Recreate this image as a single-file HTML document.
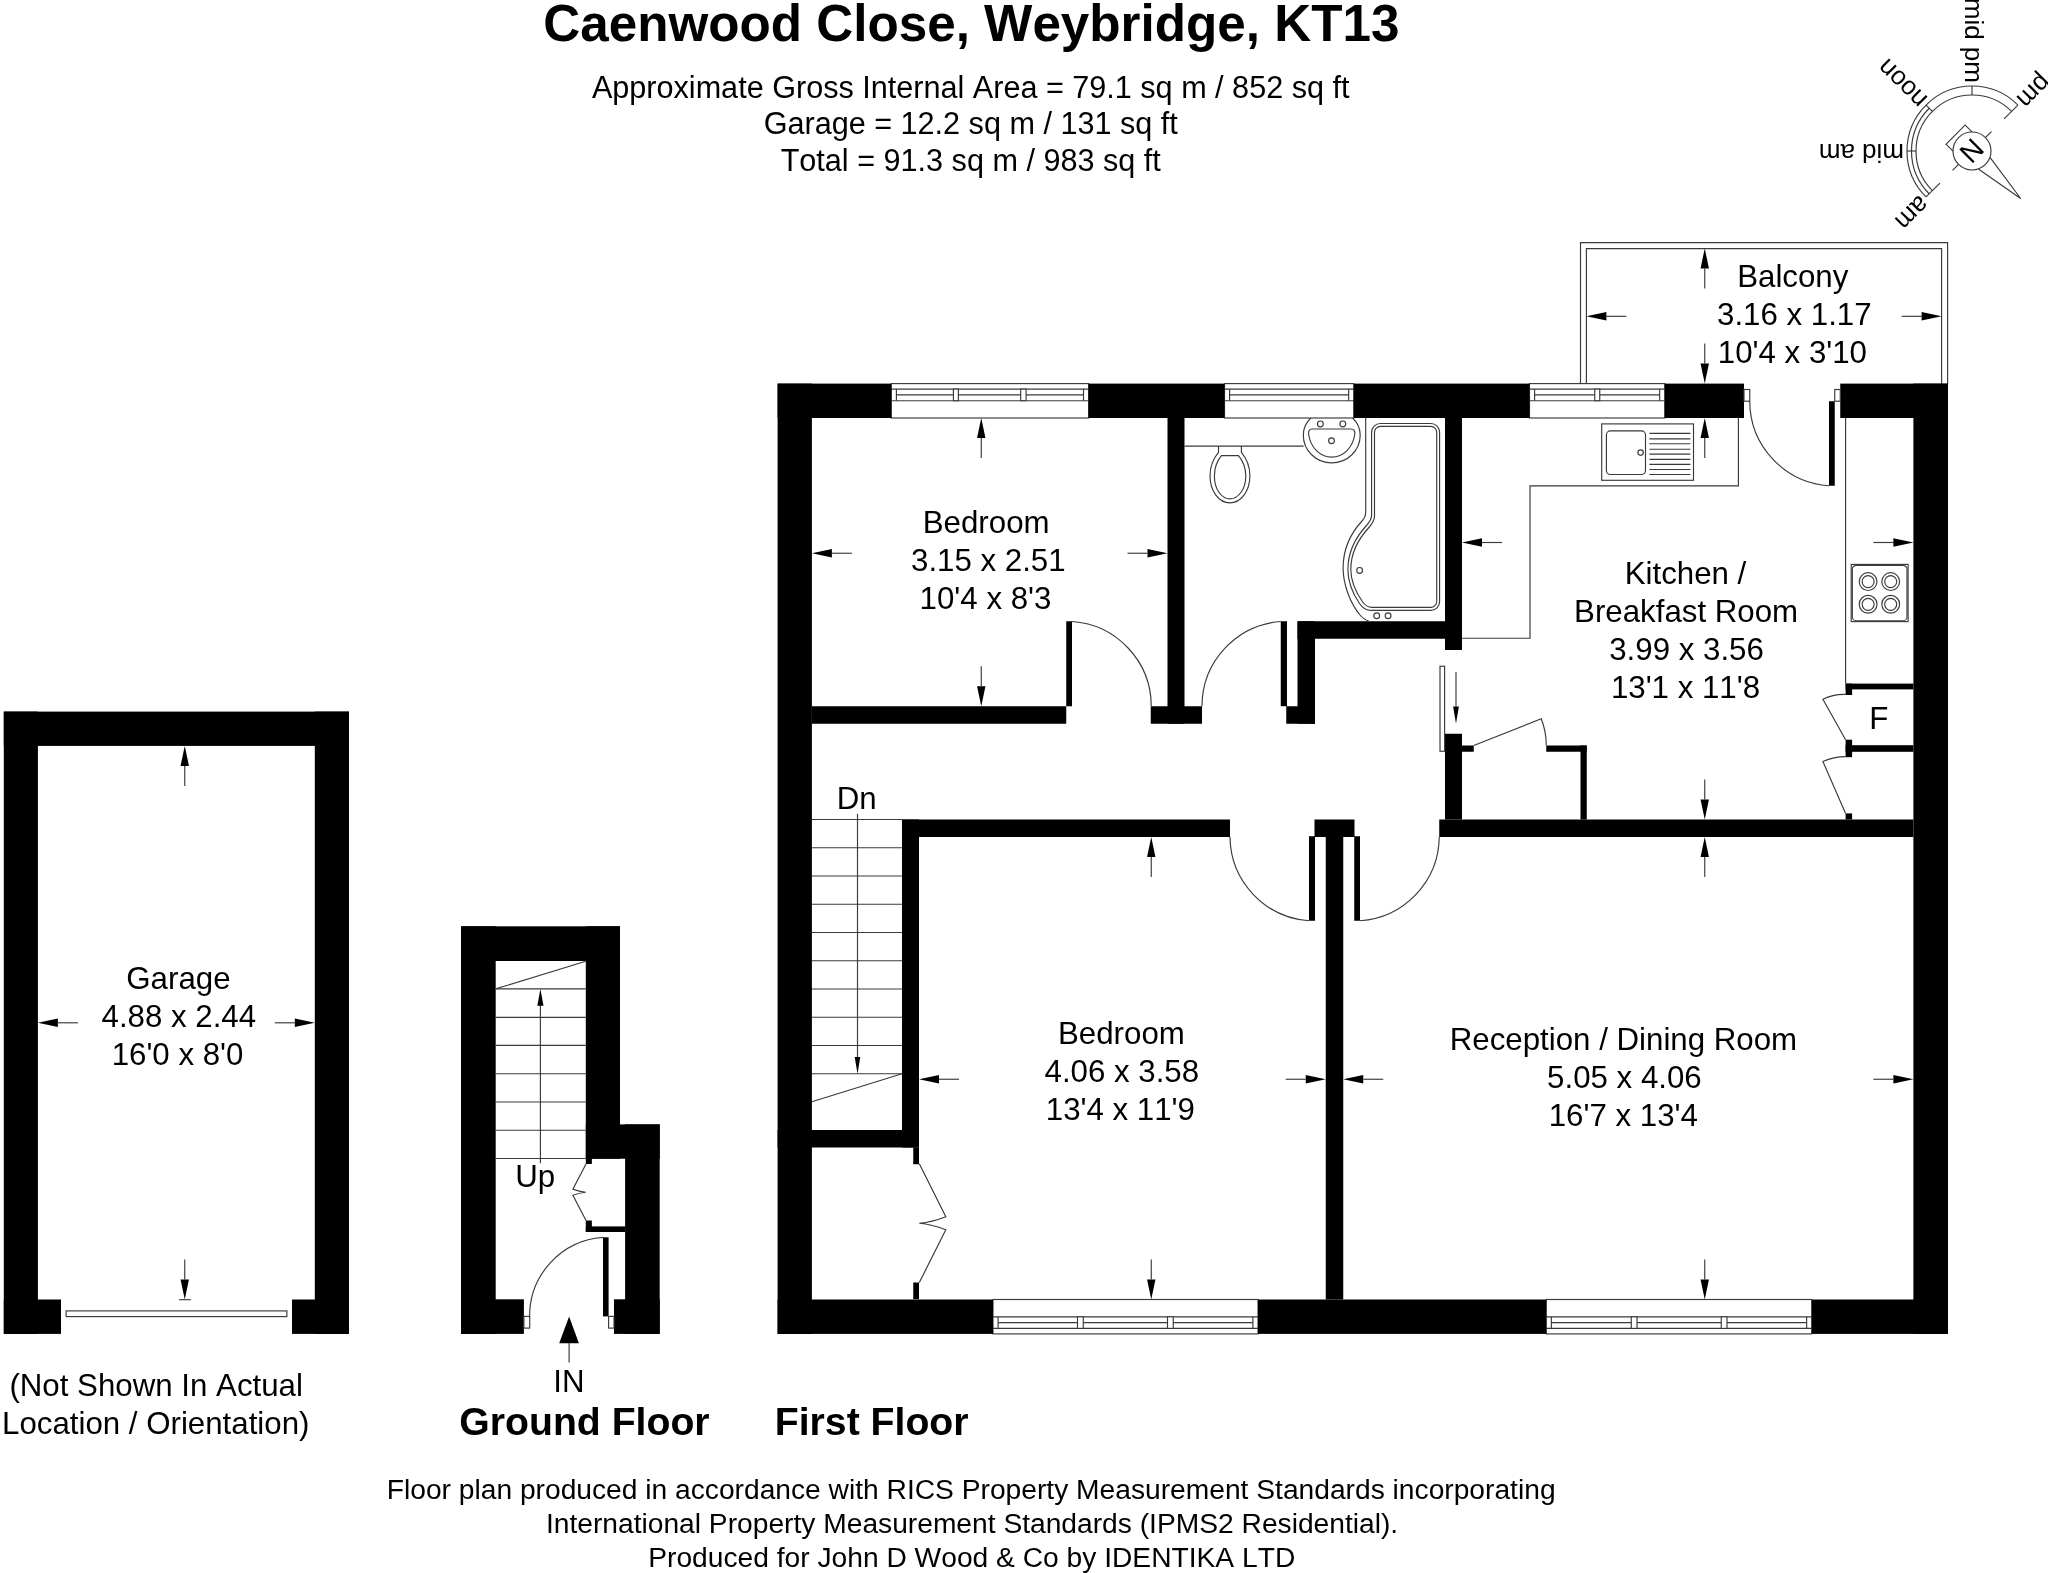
<!DOCTYPE html>
<html lang="en"><head><meta charset="utf-8"><title>Caenwood Close, Weybridge, KT13 - Floor plan</title>
<style>
html,body{margin:0;padding:0;background:#fff;}
body{width:2048px;height:1573px;overflow:hidden;font-family:"Liberation Sans",sans-serif;}
svg{display:block;position:absolute;left:0;top:0;will-change:transform;}
text{font-family:"Liberation Sans",sans-serif;fill:#000;font-kerning:none;font-feature-settings:"kern" 0,"liga" 0;white-space:pre;}
.w{fill:#000;}
.l{fill:none;stroke:#3a3a3a;stroke-width:1.15;}
.lf{fill:#fff;stroke:#3a3a3a;stroke-width:1.15;}
.a{fill:none;stroke:#3a3a3a;stroke-width:1.15;}
.h{fill:#000;stroke:none;}
.t{font-size:31.25px;}
.tt{font-size:51.2px;font-weight:bold;}
.st{font-size:30.6px;}
.fl{font-size:39.2px;font-weight:bold;}
.ft{font-size:28.2px;}
.c{font-size:26px;}
.cn{font-size:28px;}
</style></head><body>
<svg width="2048" height="1573" viewBox="0 0 2048 1573">
<rect x="0" y="0" width="2048" height="1573" fill="#fff"/>
<g id="headings">
<text class="tt" x="971.3" y="41.2" text-anchor="middle">Caenwood Close, Weybridge, KT13</text>
<text class="st" x="970.7" y="97.6" text-anchor="middle">Approximate Gross Internal Area = 79.1 sq m / 852 sq ft</text>
<text class="st" x="970.7" y="134.4" text-anchor="middle">Garage = 12.2 sq m / 131 sq ft</text>
<text class="st" x="970.7" y="171.2" text-anchor="middle">Total = 91.3 sq m / 983 sq ft</text>
</g>
<g id="compass" transform="translate(1972 151) rotate(135)">
<path class="l" d="M65 0A65 65 0 0 1 -65 0"/>
<path class="l" d="M56 0A56 56 0 0 1 -56 0"/>
<path class="l" d="M60.5 0A60.5 60.5 0 0 1 0 60.5"/>
<line class="l" x1="65" y1="0" x2="45.3" y2="0"/>
<line class="l" x1="-65" y1="0" x2="-45.3" y2="0"/>
<line class="l" x1="0" y1="56" x2="0" y2="65"/>
<line class="l" x1="39.6" y1="39.6" x2="45.96" y2="45.96"/>
<line class="l" x1="-39.6" y1="39.6" x2="-45.96" y2="45.96"/>
<rect class="l" x="-13.5" y="0" width="27" height="23.2"/>
<line class="l" x1="19" y1="0" x2="27.5" y2="0"/>
<line class="l" x1="-19" y1="0" x2="-27.5" y2="0"/>
<path class="l" d="M-8.1 -17.6L-0.8 -68L8.1 -17.6"/>
<circle class="lf" cx="0" cy="0" r="19"/>
<text class="cn" x="0" y="10" text-anchor="middle">N</text>
<text class="c" x="68" y="6.8" text-anchor="start">am</text>
<text class="c" x="-68" y="6.8" text-anchor="end">pm</text>
<g transform="rotate(90)">
<text class="c" x="68" y="6.8" text-anchor="start">noon</text>
</g>
<g transform="rotate(45)">
<text class="c" x="68" y="6.8" text-anchor="start">mid am</text>
</g>
<g transform="rotate(-45)">
<text class="c" x="-68" y="6.8" text-anchor="end">mid pm</text>
</g>
</g>
<g id="garage">
<rect class="w" x="3.8" y="711.6" width="345.2" height="34.3"/>
<rect class="w" x="3.8" y="711.6" width="34.1" height="622.3"/>
<rect class="w" x="314.8" y="711.6" width="34.2" height="622.3"/>
<rect class="w" x="3.8" y="1299.5" width="57.2" height="34.4"/>
<rect class="w" x="292" y="1299.5" width="57" height="34.4"/>
<rect class="lf" x="66.1" y="1310.9" width="220.8" height="5.7"/>
<line class="a" x1="184.75" y1="785.9" x2="184.75" y2="765.9"/>
<polygon class="h" points="184.75,745.9 188.95,765.9 180.55,765.9"/>
<line class="a" x1="184.75" y1="1259.5" x2="184.75" y2="1279.5"/>
<polygon class="h" points="184.75,1299.5 180.55,1279.5 188.95,1279.5"/>
<line class="a" x1="179" y1="1299.7" x2="190.8" y2="1299.7"/>
<line class="a" x1="77.9" y1="1022.8" x2="57.9" y2="1022.8"/>
<polygon class="h" points="37.9,1022.8 57.9,1018.6 57.9,1027"/>
<line class="a" x1="274.8" y1="1022.8" x2="294.8" y2="1022.8"/>
<polygon class="h" points="314.8,1022.8 294.8,1027 294.8,1018.6"/>
<text class="t" x="126.3" y="988.7" text-anchor="start">Garage</text>
<text class="t" x="101.5" y="1026.6" text-anchor="start">4.88 x 2.44</text>
<text class="t" x="111.65" y="1064.7" text-anchor="start">16'0 x 8'0</text>
<text class="t" x="9.4" y="1396.25" text-anchor="start">(Not Shown In Actual</text>
<text class="t" x="2" y="1433.9" text-anchor="start">Location / Orientation)</text>
</g>
<g id="ground">
<rect class="w" x="461" y="926.3" width="159" height="34.7"/>
<rect class="w" x="461" y="926.3" width="34.7" height="407.6"/>
<rect class="w" x="585.8" y="926.3" width="34.2" height="232.4"/>
<rect class="w" x="585.8" y="1124.4" width="73.9" height="34.3"/>
<rect class="w" x="625.1" y="1124.4" width="34.6" height="209.5"/>
<rect class="w" x="461" y="1299.3" width="62.9" height="34.6"/>
<rect class="w" x="614" y="1299.3" width="45.7" height="34.6"/>
<rect class="w" x="585.8" y="1158.4" width="6.05" height="5.6"/>
<rect class="w" x="585.8" y="1220.5" width="6.05" height="11.5"/>
<rect class="w" x="585.8" y="1226.4" width="39.3" height="5.6"/>
<path class="l" d="M586 1163.9L572.9 1189.3Q579 1191.6 585.7 1192.2Q579 1192.9 572.9 1195.3L586 1220.6"/>
<line class="l" x1="495.7" y1="988.9" x2="585.8" y2="988.9"/>
<line class="l" x1="495.7" y1="1017.3" x2="585.8" y2="1017.3"/>
<line class="l" x1="495.7" y1="1045.4" x2="585.8" y2="1045.4"/>
<line class="l" x1="495.7" y1="1073.7" x2="585.8" y2="1073.7"/>
<line class="l" x1="495.7" y1="1102" x2="585.8" y2="1102"/>
<line class="l" x1="495.7" y1="1130.2" x2="585.8" y2="1130.2"/>
<line class="l" x1="495.7" y1="1158.5" x2="585.8" y2="1158.5"/>
<line class="l" x1="585.8" y1="961.2" x2="495.7" y2="988.9"/>
<line class="a" x1="540.4" y1="1005" x2="540.4" y2="1163.3"/>
<polygon class="h" points="540.4,988.9 543.5,1005.8 537.3,1005.8"/>
<text class="t" x="515.3" y="1187" text-anchor="start">Up</text>
<rect class="w" x="603" y="1237.3" width="5.6" height="79.1"/>
<path class="l" d="M603 1237.4A79 79 0 0 0 529.6 1316.4"/>
<rect class="lf" x="523.9" y="1316.4" width="5.8" height="11.7"/>
<rect class="lf" x="608.6" y="1316.4" width="5.4" height="11.7"/>
<polygon class="h" points="569.1,1316.5 578.9,1343.3 559.2,1343.3"/>
<line class="a" x1="569.1" y1="1343" x2="569.1" y2="1362.5"/>
<text class="t" x="553.3" y="1391.7" text-anchor="start">IN</text>
<text class="fl" x="459.3" y="1434.6" text-anchor="start">Ground Floor</text>
</g>
<g id="first">
<rect class="lf" x="891.3" y="383.6" width="197.3" height="34.4"/>
<line class="l" x1="891.3" y1="389.1" x2="1088.6" y2="389.1"/>
<line class="l" x1="891.3" y1="400.7" x2="1088.6" y2="400.7"/>
<line class="l" x1="896.4" y1="389.1" x2="896.4" y2="400.7"/>
<line class="l" x1="1083.5" y1="389.1" x2="1083.5" y2="400.7"/>
<rect class="lf" x="953.4" y="389.1" width="5" height="11.6"/>
<rect class="lf" x="1020.7" y="389.1" width="5.4" height="11.6"/>
<line class="l" x1="896.4" y1="394.9" x2="953.4" y2="394.9"/>
<line class="l" x1="958.4" y1="394.9" x2="1020.7" y2="394.9"/>
<line class="l" x1="1026.1" y1="394.9" x2="1083.5" y2="394.9"/>
<rect class="lf" x="1224.5" y="383.6" width="129.25" height="34.4"/>
<line class="l" x1="1224.5" y1="389.1" x2="1353.75" y2="389.1"/>
<line class="l" x1="1224.5" y1="400.7" x2="1353.75" y2="400.7"/>
<line class="l" x1="1229.6" y1="389.1" x2="1229.6" y2="400.7"/>
<line class="l" x1="1348.65" y1="389.1" x2="1348.65" y2="400.7"/>
<line class="l" x1="1229.6" y1="394.9" x2="1348.65" y2="394.9"/>
<rect class="lf" x="1529.5" y="383.6" width="135.25" height="34.4"/>
<line class="l" x1="1529.5" y1="389.1" x2="1664.75" y2="389.1"/>
<line class="l" x1="1529.5" y1="400.7" x2="1664.75" y2="400.7"/>
<line class="l" x1="1534.6" y1="389.1" x2="1534.6" y2="400.7"/>
<line class="l" x1="1659.65" y1="389.1" x2="1659.65" y2="400.7"/>
<rect class="lf" x="1594.75" y="389.1" width="5" height="11.6"/>
<line class="l" x1="1534.6" y1="394.9" x2="1594.75" y2="394.9"/>
<line class="l" x1="1599.75" y1="394.9" x2="1659.65" y2="394.9"/>
<rect class="lf" x="993" y="1299.5" width="265" height="34.4"/>
<line class="l" x1="993" y1="1328.4" x2="1258" y2="1328.4"/>
<line class="l" x1="993" y1="1316.8" x2="1258" y2="1316.8"/>
<line class="l" x1="998.1" y1="1328.4" x2="998.1" y2="1316.8"/>
<line class="l" x1="1252.9" y1="1328.4" x2="1252.9" y2="1316.8"/>
<rect class="lf" x="1077.5" y="1316.8" width="5.75" height="11.6"/>
<rect class="lf" x="1167.5" y="1316.8" width="5.75" height="11.6"/>
<line class="l" x1="998.1" y1="1322.6" x2="1077.5" y2="1322.6"/>
<line class="l" x1="1083.25" y1="1322.6" x2="1167.5" y2="1322.6"/>
<line class="l" x1="1173.25" y1="1322.6" x2="1252.9" y2="1322.6"/>
<rect class="lf" x="1546.25" y="1299.5" width="265.5" height="34.4"/>
<line class="l" x1="1546.25" y1="1328.4" x2="1811.75" y2="1328.4"/>
<line class="l" x1="1546.25" y1="1316.8" x2="1811.75" y2="1316.8"/>
<line class="l" x1="1551.35" y1="1328.4" x2="1551.35" y2="1316.8"/>
<line class="l" x1="1806.65" y1="1328.4" x2="1806.65" y2="1316.8"/>
<rect class="lf" x="1631.25" y="1316.8" width="5.75" height="11.6"/>
<rect class="lf" x="1721.25" y="1316.8" width="5.75" height="11.6"/>
<line class="l" x1="1551.35" y1="1322.6" x2="1631.25" y2="1322.6"/>
<line class="l" x1="1637" y1="1322.6" x2="1721.25" y2="1322.6"/>
<line class="l" x1="1727" y1="1322.6" x2="1806.65" y2="1322.6"/>
<path class="l" d="M1580.5 384V242.6H1947.6V384"/>
<path class="l" d="M1586.4 384V248.6H1941.6V384"/>
<rect class="w" x="777.6" y="383.6" width="34.3" height="950.3"/>
<rect class="w" x="1913.4" y="383.6" width="34.6" height="950.3"/>
<rect class="w" x="777.6" y="383.6" width="113.7" height="34.4"/>
<rect class="w" x="1088.6" y="383.6" width="135.9" height="34.4"/>
<rect class="w" x="1353.75" y="383.6" width="175.75" height="34.4"/>
<rect class="w" x="1664.75" y="383.6" width="79.25" height="34.4"/>
<rect class="w" x="1840.25" y="383.6" width="107.75" height="34.4"/>
<rect class="w" x="777.6" y="1299.5" width="215.4" height="34.4"/>
<rect class="w" x="1258" y="1299.5" width="288.25" height="34.4"/>
<rect class="w" x="1811.75" y="1299.5" width="136.25" height="34.4"/>
<rect class="w" x="1167.5" y="418" width="17" height="305.75"/>
<rect class="w" x="811.9" y="706.25" width="254.35" height="17.5"/>
<rect class="w" x="1066.25" y="621.25" width="5.75" height="85"/>
<rect class="w" x="1150.75" y="706.25" width="51.25" height="17.5"/>
<rect class="w" x="1280.75" y="621.25" width="6.25" height="85"/>
<rect class="w" x="1286.25" y="706.25" width="28.75" height="17.5"/>
<rect class="w" x="1297.5" y="621.25" width="17.5" height="102.5"/>
<rect class="w" x="1297.5" y="621.25" width="164.5" height="17.5"/>
<rect class="w" x="1445" y="418" width="17" height="232"/>
<rect class="w" x="1445" y="733.75" width="17" height="85.75"/>
<rect class="w" x="1462" y="745.5" width="11.75" height="6.25"/>
<rect class="w" x="1546.25" y="745.5" width="40.5" height="6.25"/>
<rect class="w" x="1580.5" y="745.5" width="6.25" height="74"/>
<rect class="w" x="1439.25" y="819.5" width="474.15" height="17.5"/>
<rect class="w" x="1314.5" y="819.5" width="40" height="17.5"/>
<rect class="w" x="1325.75" y="837" width="17.5" height="462.5"/>
<rect class="w" x="1309" y="836.25" width="6" height="84.5"/>
<rect class="w" x="1354.25" y="836.25" width="5.75" height="84.5"/>
<rect class="w" x="902" y="819.5" width="328" height="17.5"/>
<rect class="w" x="902" y="819.5" width="17" height="328"/>
<rect class="w" x="777.6" y="1130" width="141.4" height="17.5"/>
<rect class="w" x="913.25" y="1147.5" width="5.75" height="16.75"/>
<rect class="w" x="913.25" y="1282.5" width="5.75" height="16.75"/>
<rect class="w" x="1829" y="401.25" width="5.75" height="84.5"/>
<rect class="w" x="1845.6" y="683.6" width="67.8" height="5.8"/>
<rect class="w" x="1845.6" y="683.6" width="6.5" height="11.4"/>
<rect class="w" x="1845.6" y="739.7" width="6.5" height="17.5"/>
<rect class="w" x="1845.6" y="745.2" width="67.8" height="6.6"/>
<rect class="w" x="1845.6" y="813.4" width="6.5" height="6.1"/>
<rect class="lf" x="1744" y="389.5" width="5.75" height="11.7"/>
<rect class="lf" x="1834.75" y="389.5" width="5.5" height="11.7"/>
<path class="l" d="M1072 621.5A85 85 0 0 1 1151.25 706.25"/>
<path class="l" d="M1280.75 621.5A85 85 0 0 0 1202 706.25"/>
<path class="l" d="M1230 837A85 85 0 0 0 1309 920.75"/>
<path class="l" d="M1439.25 837A85 85 0 0 1 1360 920.75"/>
<path class="l" d="M1829 485.75A85 85 0 0 1 1749.75 401.25"/>
<path class="l" d="M1473.75 745.5L1541.25 718.75A72.5 72.5 0 0 1 1546.25 745.5"/>
<rect class="lf" x="1440" y="666.25" width="4.6" height="85"/>
<path class="l" d="M1845.6 739.7L1822.9 699.3A46.3 46.3 0 0 1 1845.6 694.4"/>
<path class="l" d="M1845.6 813.4L1822.9 761.5A56.8 56.8 0 0 1 1845.6 756.6"/>
<path class="l" d="M919.3 1163.8L945.8 1216.8Q932 1222.3 919.3 1223.3Q932 1224.4 945.8 1229.7L919.3 1282.6"/>
<line class="l" x1="811.9" y1="819.5" x2="902" y2="819.5"/>
<line class="l" x1="811.9" y1="847.75" x2="902" y2="847.75"/>
<line class="l" x1="811.9" y1="876" x2="902" y2="876"/>
<line class="l" x1="811.9" y1="904.25" x2="902" y2="904.25"/>
<line class="l" x1="811.9" y1="932.5" x2="902" y2="932.5"/>
<line class="l" x1="811.9" y1="960.75" x2="902" y2="960.75"/>
<line class="l" x1="811.9" y1="989" x2="902" y2="989"/>
<line class="l" x1="811.9" y1="1017.25" x2="902" y2="1017.25"/>
<line class="l" x1="811.9" y1="1045.5" x2="902" y2="1045.5"/>
<line class="l" x1="811.9" y1="1073.75" x2="902" y2="1073.75"/>
<line class="l" x1="902" y1="1073.75" x2="811.9" y2="1101.75"/>
<line class="a" x1="857.5" y1="813.75" x2="857.5" y2="1058"/>
<polygon class="h" points="857.5,1073.75 860.3,1057 854.7,1057"/>
<text class="t" x="836.7" y="808.9" text-anchor="start">Dn</text>
<path class="l" d="M1462 638.25H1530V485.9H1738.4V417.5"/>
<line class="l" x1="1845.6" y1="418" x2="1845.6" y2="683.6"/>
<rect class="lf" x="1601.7" y="423.9" width="91.8" height="56.4"/>
<rect class="l" x="1606.4" y="430.9" width="39.1" height="43.6" rx="4" ry="4"/>
<circle class="l" cx="1640.6" cy="452.6" r="2.7"/>
<line class="l" x1="1649.4" y1="433.3" x2="1690.4" y2="433.3"/>
<line class="l" x1="1649.4" y1="438.9" x2="1690.4" y2="438.9"/>
<line class="l" x1="1649.4" y1="443.75" x2="1690.4" y2="443.75"/>
<line class="l" x1="1649.4" y1="449.2" x2="1690.4" y2="449.2"/>
<line class="l" x1="1649.4" y1="454.1" x2="1690.4" y2="454.1"/>
<line class="l" x1="1649.4" y1="459.4" x2="1690.4" y2="459.4"/>
<line class="l" x1="1649.4" y1="464.3" x2="1690.4" y2="464.3"/>
<line class="l" x1="1649.4" y1="469.5" x2="1690.4" y2="469.5"/>
<line class="l" x1="1649.4" y1="474.5" x2="1690.4" y2="474.5"/>
<rect class="lf" x="1851.2" y="564.4" width="56.9" height="57.2"/>
<rect class="l" x="1852.3" y="565.3" width="54.7" height="55.6" rx="4.2" ry="4.2"/>
<circle class="l" cx="1868.1" cy="581.6" r="8.9"/>
<circle class="l" cx="1868.1" cy="581.6" r="6"/>
<circle class="l" cx="1868.1" cy="604.3" r="8.9"/>
<circle class="l" cx="1868.1" cy="604.3" r="6"/>
<circle class="l" cx="1890.7" cy="581.6" r="8.9"/>
<circle class="l" cx="1890.7" cy="581.6" r="6"/>
<circle class="l" cx="1890.7" cy="604.3" r="8.9"/>
<circle class="l" cx="1890.7" cy="604.3" r="6"/>
<line class="l" x1="1184.5" y1="446.1" x2="1303.6" y2="446.1"/>
<path class="l" d="M1218.5 446.1V452.4C1213 459 1210 467 1210 476C1210 491 1219 502.9 1229.9 502.9C1240.8 502.9 1249.9 491 1249.9 476C1249.9 467 1247 459 1241.4 452.4V446.1"/>
<path class="l" d="M1221.4 455.6H1238.5C1243 461 1245.8 468 1245.8 476C1245.8 489 1238.5 498.8 1229.9 498.8C1221.3 498.8 1214.4 489 1214.4 476C1214.4 468 1217 461 1221.4 455.6Z"/>
<path class="l" d="M1310.9 418C1305.5 423 1303.3 429 1303.3 435C1303.3 450.5 1316 462.9 1331.7 462.9C1347.5 462.9 1360.2 450.5 1360.2 435C1360.2 429 1358 423 1352.6 418"/>
<path class="l" d="M1312.3 429H1351C1354 429 1355.2 431 1354.8 434C1353 447.5 1343.5 457.1 1331.7 457.1C1320 457.1 1310.4 447.5 1308.6 434C1308.2 431 1309.4 429 1312.3 429Z"/>
<circle class="l" cx="1320.4" cy="423.9" r="2.9"/>
<circle class="l" cx="1342.8" cy="423.9" r="2.9"/>
<circle class="l" cx="1331.5" cy="440.7" r="2.9"/>
<path class="l" d="M1365.7 418V512C1365.7 516 1364.5 518.5 1362 521C1350 534 1343.1 550 1343.1 568C1343.1 584 1350 603 1360 615C1362.5 618 1365 620 1368.6 620.9"/>
<path class="l" d="M1380.4 423.5H1430.8A8.8 8.8 0 0 1 1439.6 432.3V601.6A8.8 8.8 0 0 1 1430.8 610.4H1371C1366 610.4 1362.5 608 1359.5 603.5C1352.5 593 1347.9 581 1347.9 569.4C1347.9 553 1355 538 1366.5 525.5C1370 521.7 1371.6 519 1371.6 515V432.3A8.8 8.8 0 0 1 1380.4 423.5Z"/>
<path class="l" d="M1380.5 426.4H1430.7A6 6 0 0 1 1436.7 432.4V601.4A6 6 0 0 1 1430.7 607.4H1372C1368 607.4 1365 605.5 1362.3 601.5C1355.5 591.5 1350.8 580.5 1350.8 569.4C1350.8 554 1357.5 540 1368.5 528C1372.5 523.6 1374.5 520.5 1374.5 516V432.4A6 6 0 0 1 1380.5 426.4Z"/>
<circle class="l" cx="1359.6" cy="570.4" r="2.9"/>
<circle class="l" cx="1376.7" cy="615.8" r="2.9"/>
<circle class="l" cx="1388.1" cy="615.8" r="2.9"/>
<line class="a" x1="981.25" y1="458" x2="981.25" y2="438"/>
<polygon class="h" points="981.25,418 985.45,438 977.05,438"/>
<line class="a" x1="981.25" y1="666.25" x2="981.25" y2="686.25"/>
<polygon class="h" points="981.25,706.25 977.05,686.25 985.45,686.25"/>
<line class="a" x1="851.9" y1="553.25" x2="831.9" y2="553.25"/>
<polygon class="h" points="811.9,553.25 831.9,549.05 831.9,557.45"/>
<line class="a" x1="1127.5" y1="553.25" x2="1147.5" y2="553.25"/>
<polygon class="h" points="1167.5,553.25 1147.5,557.45 1147.5,549.05"/>
<line class="a" x1="1151.25" y1="877" x2="1151.25" y2="857"/>
<polygon class="h" points="1151.25,837 1155.45,857 1147.05,857"/>
<line class="a" x1="1151.25" y1="1259.5" x2="1151.25" y2="1279.5"/>
<polygon class="h" points="1151.25,1299.5 1147.05,1279.5 1155.45,1279.5"/>
<line class="a" x1="959" y1="1079.25" x2="939" y2="1079.25"/>
<polygon class="h" points="919,1079.25 939,1075.05 939,1083.45"/>
<line class="a" x1="1285.75" y1="1079.25" x2="1305.75" y2="1079.25"/>
<polygon class="h" points="1325.75,1079.25 1305.75,1083.45 1305.75,1075.05"/>
<line class="a" x1="1383.25" y1="1079.25" x2="1363.25" y2="1079.25"/>
<polygon class="h" points="1343.25,1079.25 1363.25,1075.05 1363.25,1083.45"/>
<line class="a" x1="1873.4" y1="1079.25" x2="1893.4" y2="1079.25"/>
<polygon class="h" points="1913.4,1079.25 1893.4,1083.45 1893.4,1075.05"/>
<line class="a" x1="1704.75" y1="877" x2="1704.75" y2="857"/>
<polygon class="h" points="1704.75,837 1708.95,857 1700.55,857"/>
<line class="a" x1="1704.75" y1="1259.5" x2="1704.75" y2="1279.5"/>
<polygon class="h" points="1704.75,1299.5 1700.55,1279.5 1708.95,1279.5"/>
<line class="a" x1="1704.75" y1="779.5" x2="1704.75" y2="799.5"/>
<polygon class="h" points="1704.75,819.5 1700.55,799.5 1708.95,799.5"/>
<line class="a" x1="1704.75" y1="458" x2="1704.75" y2="438"/>
<polygon class="h" points="1704.75,418 1708.95,438 1700.55,438"/>
<line class="a" x1="1502" y1="542.5" x2="1482" y2="542.5"/>
<polygon class="h" points="1462,542.5 1482,538.3 1482,546.7"/>
<line class="a" x1="1873.4" y1="542.5" x2="1893.4" y2="542.5"/>
<polygon class="h" points="1913.4,542.5 1893.4,546.7 1893.4,538.3"/>
<line class="a" x1="1456" y1="672" x2="1456" y2="706.5"/>
<polygon class="h" points="1456,723.5 1453.1,706.5 1458.9,706.5"/>
<line class="a" x1="1704.75" y1="288.4" x2="1704.75" y2="268.4"/>
<polygon class="h" points="1704.75,248.4 1708.95,268.4 1700.55,268.4"/>
<line class="a" x1="1704.75" y1="343.6" x2="1704.75" y2="363.6"/>
<polygon class="h" points="1704.75,383.6 1700.55,363.6 1708.95,363.6"/>
<line class="a" x1="1626.4" y1="316.3" x2="1606.4" y2="316.3"/>
<polygon class="h" points="1586.4,316.3 1606.4,312.1 1606.4,320.5"/>
<line class="a" x1="1901.6" y1="316.3" x2="1921.6" y2="316.3"/>
<polygon class="h" points="1941.6,316.3 1921.6,320.5 1921.6,312.1"/>
<text class="t" x="922.75" y="532.7" text-anchor="start">Bedroom</text>
<text class="t" x="911" y="570.75" text-anchor="start">3.15 x 2.51</text>
<text class="t" x="919.6" y="608.5" text-anchor="start">10'4 x 8'3</text>
<text class="t" x="1058" y="1044.3" text-anchor="start">Bedroom</text>
<text class="t" x="1044.5" y="1082.3" text-anchor="start">4.06 x 3.58</text>
<text class="t" x="1045.75" y="1120" text-anchor="start">13'4 x 11'9</text>
<text class="t" x="1449.75" y="1050" text-anchor="start">Reception / Dining Room</text>
<text class="t" x="1547.1" y="1087.75" text-anchor="start">5.05 x 4.06</text>
<text class="t" x="1548.7" y="1125.8" text-anchor="start">16'7 x 13'4</text>
<text class="t" x="1624.7" y="584.3" text-anchor="start">Kitchen /</text>
<text class="t" x="1574.1" y="622" text-anchor="start">Breakfast Room</text>
<text class="t" x="1609.2" y="659.7" text-anchor="start">3.99 x 3.56</text>
<text class="t" x="1610.9" y="697.6" text-anchor="start">13'1 x 11'8</text>
<text class="t" x="1737.2" y="286.7" text-anchor="start">Balcony</text>
<text class="t" x="1717" y="324.6" text-anchor="start">3.16 x 1.17</text>
<text class="t" x="1717.8" y="362.6" text-anchor="start">10'4 x 3'10</text>
<text class="t" x="1869.2" y="728.6" text-anchor="start">F</text>
<text class="fl" x="774.8" y="1434.6" text-anchor="start">First Floor</text>
</g>
<g id="footer">
<text class="ft" x="971.15" y="1499.4" text-anchor="middle">Floor plan produced in accordance with RICS Property Measurement Standards incorporating</text>
<text class="ft" x="972.05" y="1533.2" text-anchor="middle">International Property Measurement Standards (IPMS2 Residential).</text>
<text class="ft" x="971.75" y="1566.9" text-anchor="middle">Produced for John D Wood &amp; Co by IDENTIKA LTD</text>
</g>
</svg>
</body></html>
